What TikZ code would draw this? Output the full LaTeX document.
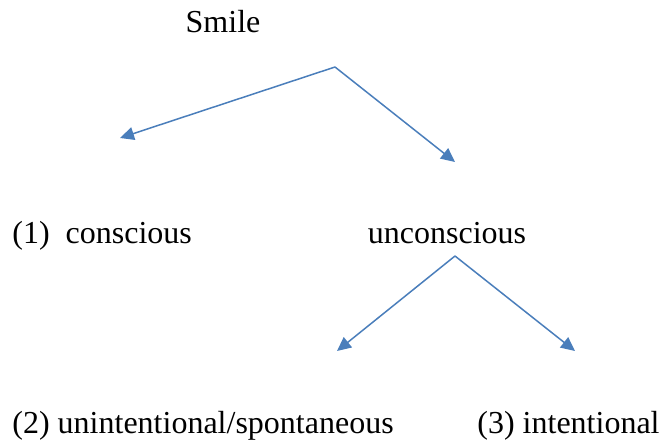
\documentclass[tikz,border=0pt]{standalone}
\usepackage{fontspec}
\setmainfont{Liberation Serif}
\usetikzlibrary{arrows.meta, positioning}
\definecolor{arrowblue}{RGB}{74,126,187}

\begin{document}
\begin{tikzpicture}[
  x=0.5pt, y=-0.5pt,
  lbl/.style={anchor=base west, inner sep=0pt, font=\fontsize{16}{19}\selectfont},
  branch/.style={draw=arrowblue, line width=0.75pt, -{Triangle[length=7pt, width=6.5pt]}}
  ]
  \useasboundingbox (0,0) rectangle (663,444);
  % labels
  \node[lbl, anchor=base] (smile) at (223,33) {Smile};
  \node[lbl] (conscious) at (12,243) {(1)\ \ conscious};
  \node[lbl, anchor=base] (unconscious) at (447,243) {unconscious};
  \node[lbl] (spont) at (12,433) {(2) unintentional/spontaneous};
  \node[lbl] (intent) at (477,433) {(3) intentional};
  % branch points
  \coordinate (top) at (335,67);
  \coordinate (topL) at (120,138);
  \coordinate (topR) at (455,162);
  \coordinate (mid) at (455,256);
  \coordinate (midL) at (337,351);
  \coordinate (midR) at (575,351);
  \draw[branch] (top) -- (topL);
  \draw[branch] (top) -- (topR);
  \draw[branch] (mid) -- (midL);
  \draw[branch] (mid) -- (midR);
\end{tikzpicture}
\end{document}
